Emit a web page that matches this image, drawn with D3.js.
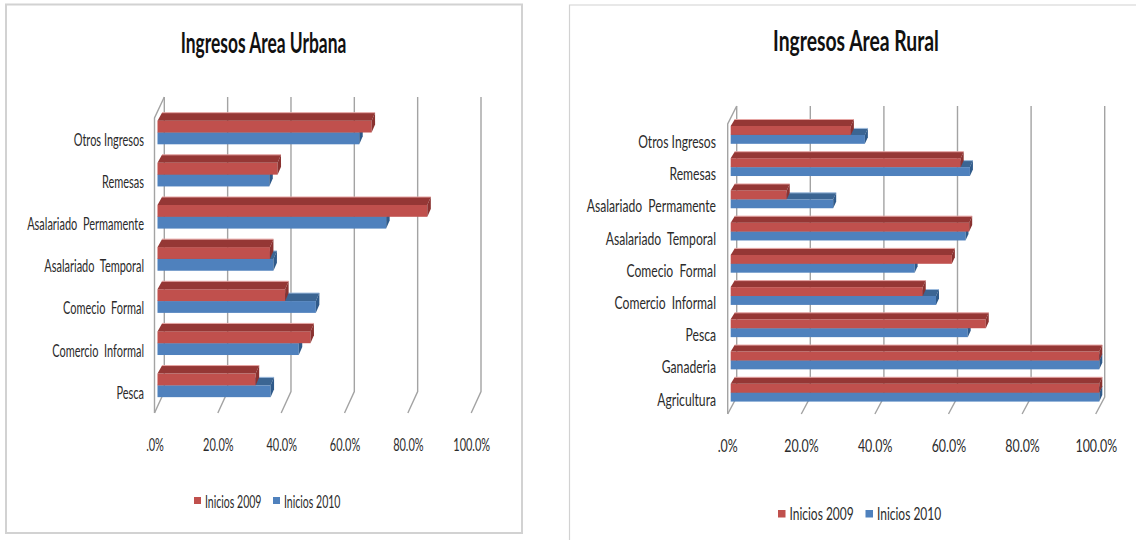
<!DOCTYPE html>
<html><head><meta charset="utf-8">
<script src="https://cdn.jsdelivr.net/npm/d3@7/dist/d3.min.js"></script>
<style>
html,body{margin:0;padding:0;background:#fff;overflow:hidden}
text{font-family:Lato,"Open Sans",sans-serif;white-space:pre;fill:#2b2b2b}
</style></head><body>
<svg id="c" width="1136" height="540"></svg>
<script>
const seriesNames = ["Inicios 2009", "Inicios 2010"];
const ticks = [0, 20, 40, 60, 80, 100];

const urbanTitle = "Ingresos Area Urbana";
const urbanCategories = ["Otros Ingresos", "Remesas", "Asalariado  Permamente", "Asalariado  Temporal", "Comecio  Formal", "Comercio  Informal", "Pesca"];
const urban2009 = [67.6, 37.9, 85.2, 35.5, 40.3, 48.3, 31.0];
const urban2010 = [63.7, 35.3, 72.2, 36.6, 50.0, 44.6, 35.7];

const ruralTitle = "Ingresos Area Rural";
const ruralCategories = ["Otros Ingresos", "Remesas", "Asalariado  Permamente", "Asalariado  Temporal", "Comecio  Formal", "Comercio  Informal", "Pesca", "Ganaderia", "Agricultura"];
const rural2009 = [32.6, 62.4, 15.2, 64.7, 60.0, 52.1, 69.2, 100, 100];
const rural2010 = [36.4, 64.9, 27.8, 63.7, 49.9, 55.7, 64.3, 100, 100];

const RED = {face:"#c0504d", top:"#953735", side:"#8a3230", edge:"#e6a5a3"};
const BLUE = {face:"#4f81bd", top:"#3b6593", side:"#2f5a8a", edge:"#9dbbdd"};

const svg = d3.select("#c");

function chart(o){
  const g = svg.append("g");
  // panel
  g.append("path").attr("d", o.panel).attr("fill","none").attr("stroke",o.panelStroke).attr("stroke-width",o.panelW);
  const x = d3.scaleLinear().domain([0,100]).range([o.x0,o.x1]);
  const xBack = d3.scaleLinear().domain([0,100]).range([o.bx0,o.bx1]);
  const y = d3.scaleBand().domain(o.cats).range([o.top,o.bottom]);

  // walls and gridlines
  const grid = g.append("g").attr("fill","none").attr("stroke","#a3a3a3").attr("stroke-width",1.4);
  ticks.forEach(t=>{
    const bx = xBack(t);
    grid.append("path").attr("d",`M${bx},${o.backTop}V${o.backBottom}L${bx-o.wallDx},${o.bottom}`);
  });
  const fl = o.bx0 - o.wallDx;
  grid.append("path").attr("d",`M${o.bx0},${o.backTop}L${fl},${o.top}V${o.bottom}`);

  // bars
  const bars = g.append("g");
  function bar(v, yTop, c){
    const x0 = x(0), x1 = x(v), h = o.barH, dx = o.dx, dy = o.dy;
    bars.append("rect").attr("x",x0).attr("y",yTop).attr("width",x1-x0).attr("height",h).attr("fill",c.face);
    bars.append("path").attr("d",`M${x0},${yTop}L${x0+dx+1},${yTop-dy}H${x1+dx}L${x1},${yTop}Z`).attr("fill",c.top);
    bars.append("path").attr("d",`M${x0+dx+1},${yTop-dy}H${x1+dx}`).attr("stroke",c.edge).attr("stroke-width",1).attr("fill","none");
    bars.append("path").attr("d",`M${x1},${yTop}L${x1+dx},${yTop-dy}V${yTop-dy+h}L${x1},${yTop+h}Z`).attr("fill",c.side);
  }
  o.cats.forEach((cat,i)=>{
    const t = y(cat)+o.barOff;
    bar(o.b[i], t+o.barH, BLUE);
    bar(o.a[i], t, RED);
  });

  // category labels
  const tr = (sel,px,py,anchorScale)=>sel.attr("transform",`translate(${px},${py}) scale(${anchorScale},1)`);
  o.cats.forEach(cat=>{
    const t = g.append("text").attr("text-anchor","end").attr("font-size",o.labelSize).text(cat);
    tr(t,o.labelX,y(cat)+y.bandwidth()/2+o.labelDy,o.sx);
  });

  // value axis
  const axis = d3.axisBottom(x).tickValues(ticks).tickSize(0).tickPadding(0)
    .tickFormat(d=> d===0 ? ".0%" : d.toFixed(1)+"%");
  const ax = g.append("g").attr("transform",`translate(${o.axisShift},${o.axisY})`).call(axis);
  ax.select(".domain").remove();
  ax.selectAll("text").attr("font-size",o.labelSize).attr("font-family","Lato").attr("fill","#2b2b2b")
    .attr("transform",`scale(${o.axisSx},1)`).attr("dy",0).attr("y",0)
    .style("dominant-baseline","auto");
  ax.selectAll(".tick text").attr("text-anchor","middle");

  // title
  tr(g.append("text").attr("text-anchor","middle").attr("font-size",o.titleSize).attr("font-weight",700).style("fill","#111").text(o.title),o.titleX,o.titleY,o.titleSx);

  // legend
  seriesNames.forEach((n,i)=>{
    const c = i===0?RED:BLUE;
    g.append("rect").attr("x",o.legX[i]).attr("y",o.legY).attr("width",o.legS).attr("height",o.legS).attr("fill",c.face);
    tr(g.append("text").attr("font-size",o.legSize).text(n),o.legX[i]+o.legS+4,o.legBase,o.legSx);
  });
}

chart({
  title:urbanTitle,cats:urbanCategories,a:urban2009,b:urban2010,
  panel:"M6,4.5H522V533H6Z",panelStroke:"#d2d2d2",panelW:2,
  x0:157.5,x1:474.2,bx0:164.3,bx1:481,wallDx:9.8,
  top:118,bottom:413,backTop:97,backBottom:391.5,
  barOff:2.7,barH:11.8,dx:3.5,dy:8,
  labelX:144,labelDy:6.8,labelSize:18,sx:.61,axisSx:.61,
  axisShift:-3,axisY:451,
  titleX:263.5,titleY:52.5,titleSize:29,titleSx:.6,
  legX:[194,273],legY:497,legS:7,legBase:508,legSize:17,legSx:.62
});
chart({
  title:ruralTitle,cats:ruralCategories,a:rural2009,b:rural2010,
  panel:"M569.5,545V5H1140",panelStroke:"#d2d2d2",panelW:1.2,
  x0:730.7,x1:1099.3,bx0:736.7,bx1:1104.7,wallDx:9,
  top:124,bottom:414,backTop:106,backBottom:397,
  barOff:2,barH:8.9,dx:3,dy:6.5,
  labelX:716,labelDy:7.8,labelSize:18,sx:.675,axisSx:.69,
  axisShift:-3.5,axisY:452,
  titleX:856,titleY:50.5,titleSize:29,titleSx:.667,
  legX:[778,865.5],legY:510,legS:7.5,legBase:520,legSize:18,legSx:.665
});
</script></body></html>
